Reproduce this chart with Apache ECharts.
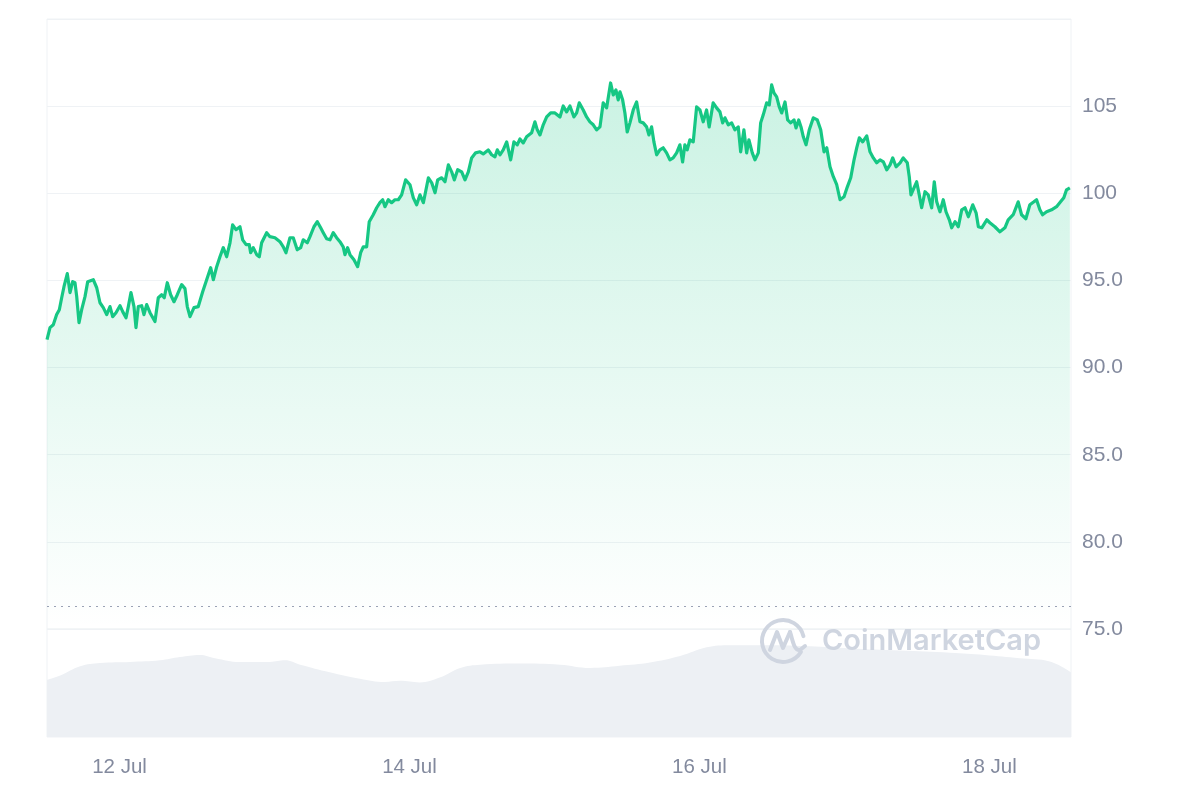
<!DOCTYPE html>
<html>
<head>
<meta charset="utf-8">
<script src="https://cdn.jsdelivr.net/npm/echarts@6/dist/echarts.min.js"></script>
<style>
html,body{margin:0;padding:0;background:#fff;}
#chart{width:1200px;height:800px;}
</style>
</head>
<body>
<div id="chart"></div>
<script>
// Hours counted from 11 Jul 00:00
const priceHours = [12.0,12.5,13.04,13.6,14.04,14.43,14.81,15.36,15.81,16.25,16.63,16.92,17.3,17.74,18.29,18.74,19.66,20.23,20.77,21.32,21.88,22.43,22.87,23.42,24.08,24.53,25.08,25.46,25.9,26.4,26.73,27.11,27.67,28.05,28.5,29.05,29.87,30.42,30.98,31.41,31.91,32.47,33.02,33.57,34.29,34.84,35.22,35.67,36.33,37.04,37.77,38.43,39.09,39.53,40.09,40.63,41.18,41.74,42.29,42.73,43.28,43.94,44.39,44.96,45.48,45.71,46.14,46.71,47.14,47.53,48.36,48.9,49.73,50.56,51.11,51.55,52.22,52.76,53.42,53.99,54.42,55.08,55.53,56.19,56.74,57.3,57.73,58.29,58.84,59.38,59.94,60.49,61.03,61.32,61.76,62.15,62.81,63.42,63.92,64.35,64.91,65.34,66.0,66.57,67.11,67.56,67.94,68.49,69.04,69.59,70.15,70.7,71.36,72.08,72.64,73.19,73.74,74.3,75.13,75.68,76.23,76.67,77.33,77.88,78.44,78.98,79.43,79.98,80.64,81.19,81.74,82.29,82.95,83.66,84.21,85.04,85.6,86.15,86.53,86.98,87.52,88.09,88.75,89.29,89.84,90.29,90.83,91.39,92.22,92.77,93.15,93.6,94.14,94.71,95.37,96.08,96.91,97.45,98.01,98.56,99.22,99.67,100.1,100.76,101.32,101.87,102.42,102.98,103.53,104.07,104.63,105.29,105.73,106.17,106.55,106.84,107.28,107.66,108.04,108.49,109.04,109.6,110.15,110.69,111.25,111.63,112.08,112.46,112.91,113.45,114.0,114.56,115.11,115.65,116.22,116.76,117.21,117.59,117.97,118.42,118.97,119.53,120.08,120.62,121.18,121.61,122.27,122.84,123.39,123.84,124.22,124.77,125.33,125.87,126.42,126.82,127.36,127.81,128.19,128.74,129.19,129.74,130.13,130.56,131.12,131.56,131.95,132.33,132.78,133.21,133.61,134.16,134.6,135.1,135.65,135.98,136.43,136.81,137.19,137.64,138.18,138.85,139.51,140.07,140.62,141.07,141.61,142.16,142.72,143.27,143.93,144.48,145.04,145.59,146.03,146.46,147.02,147.69,148.23,148.78,149.34,149.89,150.44,151.0,151.55,151.99,152.54,153.21,153.73,154.4,154.73,155.01,155.51,155.95,156.38,156.78,157.33,157.87,158.44,158.87,159.27,159.81,160.36,160.81,161.36,161.75,162.3,162.85,163.41,163.96,164.51,165.24,165.79,166.17,166.73,167.56,168.07,168.9,169.73,170.56,171.1,171.93,172.76,173.32,174.03,174.69,175.36,175.8,176.35,176.79,177.46,178.28,179.11,179.77,180.31,180.76,181.31];
const priceValues = [91.60,92.29,92.46,93.04,93.32,94.01,94.64,95.39,94.30,94.93,94.87,94.07,92.58,93.32,94.07,94.93,95.04,94.58,93.72,93.44,93.04,93.50,92.92,93.15,93.55,93.21,92.86,93.50,94.30,93.50,92.29,93.50,93.55,93.04,93.61,93.15,92.64,94.01,94.18,94.01,94.87,94.18,93.78,94.18,94.76,94.53,93.50,92.92,93.44,93.50,94.35,95.04,95.73,95.04,95.79,96.36,96.88,96.36,97.16,98.19,97.91,98.08,97.33,97.05,97.05,96.59,96.88,96.48,96.36,97.16,97.74,97.51,97.45,97.22,96.93,96.59,97.45,97.45,96.76,96.88,97.33,97.16,97.51,98.08,98.37,98.02,97.74,97.39,97.33,97.74,97.45,97.22,96.93,96.48,96.88,96.48,96.19,95.79,96.59,96.93,96.93,98.37,98.77,99.17,99.46,99.63,99.23,99.63,99.46,99.63,99.63,99.91,100.77,100.49,99.74,99.34,99.91,99.46,100.89,100.60,100.03,100.77,100.89,100.66,101.63,101.23,100.77,101.35,101.23,100.77,101.23,102.03,102.32,102.38,102.26,102.49,102.21,102.09,102.49,102.21,102.49,102.95,101.92,102.95,102.78,103.12,102.89,103.24,103.47,104.10,103.64,103.35,103.93,104.38,104.61,104.61,104.38,105.01,104.67,105.01,104.38,104.61,105.19,104.78,104.38,104.10,103.93,103.64,103.81,105.19,104.90,106.33,105.64,105.93,105.36,105.82,105.36,104.61,103.52,104.04,104.78,105.24,104.10,104.04,103.81,103.35,103.81,102.95,102.21,102.49,102.61,102.32,101.92,102.03,102.32,102.78,101.80,102.78,102.49,103.07,102.95,104.96,104.78,104.10,104.78,103.81,105.19,104.90,104.67,104.04,104.33,103.93,104.04,103.64,103.81,102.38,103.64,102.32,103.07,102.32,101.92,102.32,104.04,104.50,105.19,105.07,106.22,105.76,105.53,104.96,104.61,105.24,104.21,104.04,104.21,103.75,104.21,103.81,103.24,102.78,103.64,104.33,104.21,103.64,102.38,102.61,101.52,100.95,100.49,99.63,99.80,100.37,100.89,101.92,102.61,103.18,102.95,103.29,102.38,102.03,101.75,101.92,101.80,101.35,101.63,102.03,101.52,101.75,102.03,101.75,100.95,99.91,100.31,100.66,99.91,99.17,100.09,99.91,99.17,100.66,99.51,98.94,99.63,98.94,98.48,98.02,98.37,98.08,99.05,99.17,98.65,99.34,98.88,98.08,98.02,98.48,98.31,98.08,97.79,98.02,98.48,98.77,99.51,98.77,98.54,99.34,99.51,99.63,99.05,98.77,98.94,99.05,99.23,99.51,99.74,100.20,100.31];

// Volume (relative units, 0-100 of the lower panel)
const volumeHours = [12,14.2,17.5,20.8,25.7,30.7,34,37.3,39.8,43.9,48.9,51.4,53.9,58.8,63.8,67.9,70.4,73.7,77,80.4,83.7,90.3,96.9,101.9,106.8,111.8,116.8,121.2,125,131.7,138.3,144.9,153.2,161.5,167.2,173,178,181.5];
const volumeValues = [53,57,65.5,68.5,69.5,71,74,76,73,69.5,69.5,71,67,60,54,51,52,50.5,55,64,67,68,67,64,66,69,75,83,85,85,84,82,80,78,76,73,70,60];

const tickHours = [24,72,120,168];
const tickLabels = ['12 Jul','14 Jul','16 Jul','18 Jul'];
const yTicks = [75,80,85,90,95,100,105];
const referenceLevel = 76.3;

const hourMin = 12, hourMax = 181.5;
const labelColor = '#838a9e';
const gridColor = '#eff2f5';
const wmColor = '#cfd5e0';
const labelFont = '"Liberation Sans", Arial, sans-serif';

const priceData = priceHours.map((h,i)=>[h, priceValues[i]]);
const volumeData = volumeHours.map((h,i)=>[h, volumeValues[i]]);

const chart = echarts.init(document.getElementById('chart'), null, {renderer:'canvas'});
chart.setOption({
  animation:false,
  backgroundColor:'#ffffff',
  grid:[
    {left:47, right:129, top:19, height:610, show:true, borderColor:gridColor, borderWidth:1},
    {left:47, right:129, top:629, height:108, show:true, borderColor:gridColor, borderWidth:1}
  ],
  xAxis:[
    {type:'value', gridIndex:0, min:hourMin, max:hourMax,
     axisLine:{show:false}, axisTick:{show:false}, axisLabel:{show:false}, splitLine:{show:false}},
    {type:'value', gridIndex:1, min:hourMin, max:hourMax,
     axisLine:{show:false}, axisTick:{show:false}, splitLine:{show:false},
     axisLabel:{show:true, customValues:tickHours, margin:20,
       color:labelColor, fontSize:20.5, fontFamily:labelFont,
       formatter:function(v){ const i = tickHours.indexOf(v); return i>=0 ? tickLabels[i] : ''; }}}
  ],
  yAxis:[
    {type:'value', gridIndex:0, position:'right', min:75, max:110, interval:5,
     axisLine:{show:false}, axisTick:{show:false},
     splitLine:{show:true, lineStyle:{color:gridColor, width:1}},
     axisLabel:{margin:11, color:labelColor, fontSize:21, fontFamily:labelFont,
       formatter:function(v){ if (yTicks.indexOf(v)<0) return ''; return v>=100 ? String(v) : v.toFixed(1); }}},
    {type:'value', gridIndex:1, min:0, max:100, show:false, splitLine:{show:false}}
  ],
  series:[
    {type:'line', name:'Volume', xAxisIndex:1, yAxisIndex:1, data:volumeData,
     showSymbol:false, smooth:0.4, silent:true,
     lineStyle:{width:0}, areaStyle:{color:'#edf0f4', opacity:1}, z:1},
    {type:'line', name:'Price', xAxisIndex:0, yAxisIndex:0, data:priceData,
     showSymbol:false, silent:true,
     lineStyle:{color:'#16c784', width:3.2, join:'round'},
     areaStyle:{origin:'start', color:new echarts.graphic.LinearGradient(0,0,0,1,[
        {offset:0, color:'rgba(22,199,132,0.32)'},
        {offset:1, color:'rgba(22,199,132,0.0)'}])},
     markLine:{silent:true, symbol:'none', label:{show:false},
       lineStyle:{color:'#9aa2b5', type:[2,5], width:1.2},
       data:[{yAxis:referenceLevel}]},
     z:3}
  ],
  graphic:[
    {type:'arc', z:100, zlevel:1, silent:true, shape:{cx:783, cy:641, r:21, startAngle:0.55, endAngle:6.05, clockwise:true},
     style:{stroke:wmColor, lineWidth:4, fill:null, lineCap:'round'}},
    {type:'polyline', z:100, zlevel:1, silent:true, shape:{points:[[770,650],[777,632],[783,648],[790,632]]},
     style:{stroke:wmColor, lineWidth:4, fill:null, lineCap:'round', lineJoin:'round'}},
    {type:'bezierCurve', z:100, zlevel:1, silent:true, shape:{x1:790, y1:632, cpx1:793, cpy1:641, cpx2:794, cpy2:651, x2:800, y2:650},
     style:{stroke:wmColor, lineWidth:4, fill:null, lineCap:'round'}},
    {type:'line', z:100, zlevel:1, silent:true, shape:{x1:800, y1:650, x2:805, y2:646},
     style:{stroke:wmColor, lineWidth:4, lineCap:'round'}},
    {type:'text', z:100, zlevel:1, silent:true, x:822, y:641, style:{text:'CoinMarketCap', fill:wmColor,
      font:'600 29px Inter, "Noto Sans", sans-serif', verticalAlign:'middle', align:'left'}}
  ]
});
</script>
</body>
</html>
